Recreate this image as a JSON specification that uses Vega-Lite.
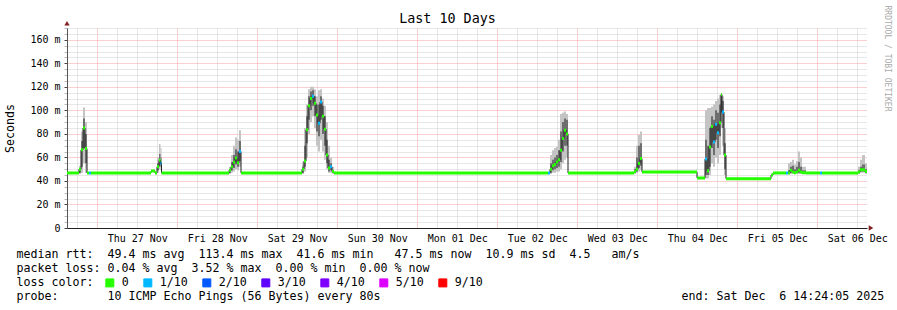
{
  "$schema": "https://vega.github.io/schema/vega-lite/v6.json",
  "width": 800,
  "height": 200,
  "autosize": {"type": "none"},
  "padding": {"left": 67, "top": 28, "right": 30, "bottom": 82},
  "background": "white",
  "title": {"text": "Last 10 Days", "font": "DejaVu Sans Mono", "fontSize": 13.4, "fontWeight": "normal", "color": "#000000", "anchor": "middle", "dx": -19.5, "dy": 20, "offset": 0},
  "datasets": {
    "rtt": [
      {"t0": "2025-11-26T14:55:00Z", "t1": "2025-11-26T18:31:00Z", "med": 46.8, "loss": "0"},
      {"t0": "2025-11-26T18:31:00Z", "t1": "2025-11-26T19:07:00Z", "med": 50, "loss": "0", "lo": 46, "hi": 53, "ilo": 47, "ihi": 51},
      {"t0": "2025-11-26T19:07:00Z", "t1": "2025-11-26T19:43:00Z", "med": 66.5, "loss": "0", "lo": 47, "hi": 82, "ilo": 52, "ihi": 74},
      {"t0": "2025-11-26T19:43:00Z", "t1": "2025-11-26T20:19:00Z", "med": 85, "loss": "0", "lo": 55, "hi": 102.5, "ilo": 68, "ihi": 93},
      {"t0": "2025-11-26T20:19:00Z", "t1": "2025-11-26T20:55:00Z", "med": 67.5, "loss": "0", "lo": 47, "hi": 90, "ilo": 55, "ihi": 80},
      {"t0": "2025-11-26T20:55:00Z", "t1": "2025-11-26T21:31:00Z", "med": 46.8, "loss": "0"},
      {"t0": "2025-11-26T21:31:00Z", "t1": "2025-11-26T22:07:00Z", "med": 46.8, "loss": "1/10"},
      {"t0": "2025-11-26T22:07:00Z", "t1": "2025-11-27T16:07:00Z", "med": 46.8, "loss": "0"},
      {"t0": "2025-11-27T16:07:00Z", "t1": "2025-11-27T17:19:00Z", "med": 48.5, "loss": "0"},
      {"t0": "2025-11-27T17:19:00Z", "t1": "2025-11-27T17:55:00Z", "med": 46.8, "loss": "0"},
      {"t0": "2025-11-27T17:55:00Z", "t1": "2025-11-27T18:31:00Z", "med": 52, "loss": "0", "lo": 47, "hi": 60, "ilo": 49, "ihi": 55},
      {"t0": "2025-11-27T18:31:00Z", "t1": "2025-11-27T18:58:00Z", "med": 57.5, "loss": "0", "lo": 50, "hi": 71.5, "ilo": 53, "ihi": 63},
      {"t0": "2025-11-27T18:58:00Z", "t1": "2025-11-27T19:16:00Z", "med": 55, "loss": "1/10", "lo": 49, "hi": 68, "ilo": 52, "ihi": 60},
      {"t0": "2025-11-27T19:16:00Z", "t1": "2025-11-28T15:31:00Z", "med": 46.8, "loss": "0"},
      {"t0": "2025-11-28T15:31:00Z", "t1": "2025-11-28T16:07:00Z", "med": 49, "loss": "0", "lo": 46, "hi": 52, "ilo": 47, "ihi": 50},
      {"t0": "2025-11-28T16:07:00Z", "t1": "2025-11-28T16:43:00Z", "med": 52, "loss": "0", "lo": 47, "hi": 62, "ilo": 49, "ihi": 56},
      {"t0": "2025-11-28T16:43:00Z", "t1": "2025-11-28T17:19:00Z", "med": 55.8, "loss": "0", "lo": 48, "hi": 70, "ilo": 51, "ihi": 62},
      {"t0": "2025-11-28T17:19:00Z", "t1": "2025-11-28T17:55:00Z", "med": 59.4, "loss": "0", "lo": 50, "hi": 77, "ilo": 54, "ihi": 67},
      {"t0": "2025-11-28T17:55:00Z", "t1": "2025-11-28T18:31:00Z", "med": 55.5, "loss": "0", "lo": 49, "hi": 75, "ilo": 52, "ihi": 65},
      {"t0": "2025-11-28T18:31:00Z", "t1": "2025-11-28T19:07:00Z", "med": 65, "loss": "1/10", "lo": 52, "hi": 83, "ilo": 57, "ihi": 74},
      {"t0": "2025-11-28T19:07:00Z", "t1": "2025-11-29T13:25:00Z", "med": 46.8, "loss": "0"},
      {"t0": "2025-11-29T13:25:00Z", "t1": "2025-11-29T14:01:00Z", "med": 50, "loss": "0", "lo": 46, "hi": 56, "ilo": 47, "ihi": 52},
      {"t0": "2025-11-29T14:01:00Z", "t1": "2025-11-29T14:37:00Z", "med": 57, "loss": "0", "lo": 48, "hi": 85, "ilo": 52, "ihi": 70},
      {"t0": "2025-11-29T14:37:00Z", "t1": "2025-11-29T15:13:00Z", "med": 83.5, "loss": "0", "lo": 60, "hi": 105, "ilo": 72, "ihi": 95},
      {"t0": "2025-11-29T15:13:00Z", "t1": "2025-11-29T15:49:00Z", "med": 104, "loss": "0", "lo": 80, "hi": 118, "ilo": 92, "ihi": 112},
      {"t0": "2025-11-29T15:49:00Z", "t1": "2025-11-29T16:25:00Z", "med": 110, "loss": "0", "lo": 90, "hi": 120, "ilo": 100, "ihi": 116},
      {"t0": "2025-11-29T16:25:00Z", "t1": "2025-11-29T17:01:00Z", "med": 112, "loss": "1/10", "lo": 95, "hi": 120, "ilo": 104, "ihi": 117},
      {"t0": "2025-11-29T17:01:00Z", "t1": "2025-11-29T17:37:00Z", "med": 106, "loss": "0", "lo": 85, "hi": 118, "ilo": 95, "ihi": 112},
      {"t0": "2025-11-29T17:37:00Z", "t1": "2025-11-29T18:13:00Z", "med": 96, "loss": "0", "lo": 70, "hi": 112, "ilo": 82, "ihi": 105},
      {"t0": "2025-11-29T18:13:00Z", "t1": "2025-11-29T18:49:00Z", "med": 89, "loss": "1/10", "lo": 65, "hi": 117, "ilo": 78, "ihi": 105},
      {"t0": "2025-11-29T18:49:00Z", "t1": "2025-11-29T19:25:00Z", "med": 107, "loss": "1/10", "lo": 75, "hi": 118, "ilo": 92, "ihi": 112},
      {"t0": "2025-11-29T19:25:00Z", "t1": "2025-11-29T20:01:00Z", "med": 95, "loss": "0", "lo": 65, "hi": 110, "ilo": 80, "ihi": 104},
      {"t0": "2025-11-29T20:01:00Z", "t1": "2025-11-29T20:37:00Z", "med": 84, "loss": "0", "lo": 58, "hi": 104, "ilo": 70, "ihi": 95},
      {"t0": "2025-11-29T20:37:00Z", "t1": "2025-11-29T21:13:00Z", "med": 62, "loss": "0", "lo": 50, "hi": 90, "ilo": 55, "ihi": 75},
      {"t0": "2025-11-29T21:13:00Z", "t1": "2025-11-29T21:49:00Z", "med": 51, "loss": "0", "lo": 47, "hi": 70, "ilo": 48, "ihi": 58},
      {"t0": "2025-11-29T21:49:00Z", "t1": "2025-11-29T22:25:00Z", "med": 52, "loss": "1/10", "lo": 47, "hi": 60, "ilo": 49, "ihi": 55},
      {"t0": "2025-11-29T22:25:00Z", "t1": "2025-11-29T23:01:00Z", "med": 48, "loss": "0", "lo": 46, "hi": 52, "ilo": 47, "ihi": 49},
      {"t0": "2025-11-29T23:01:00Z", "t1": "2025-12-02T15:13:00Z", "med": 46.8, "loss": "0"},
      {"t0": "2025-12-02T15:13:00Z", "t1": "2025-12-02T15:49:00Z", "med": 46.8, "loss": "1/10"},
      {"t0": "2025-12-02T15:49:00Z", "t1": "2025-12-02T16:25:00Z", "med": 50, "loss": "0", "lo": 46, "hi": 62, "ilo": 47, "ihi": 55},
      {"t0": "2025-12-02T16:25:00Z", "t1": "2025-12-02T17:01:00Z", "med": 53, "loss": "0", "lo": 47, "hi": 66, "ilo": 49, "ihi": 58},
      {"t0": "2025-12-02T17:01:00Z", "t1": "2025-12-02T17:37:00Z", "med": 54, "loss": "0", "lo": 47, "hi": 68, "ilo": 50, "ihi": 60},
      {"t0": "2025-12-02T17:37:00Z", "t1": "2025-12-02T18:13:00Z", "med": 56, "loss": "0", "lo": 48, "hi": 69, "ilo": 51, "ihi": 62},
      {"t0": "2025-12-02T18:13:00Z", "t1": "2025-12-02T18:49:00Z", "med": 58, "loss": "0", "lo": 48, "hi": 75, "ilo": 52, "ihi": 66},
      {"t0": "2025-12-02T18:49:00Z", "t1": "2025-12-02T19:25:00Z", "med": 66, "loss": "0", "lo": 50, "hi": 97, "ilo": 56, "ihi": 82},
      {"t0": "2025-12-02T19:25:00Z", "t1": "2025-12-02T20:01:00Z", "med": 76, "loss": "0", "lo": 55, "hi": 98, "ilo": 65, "ihi": 90},
      {"t0": "2025-12-02T20:01:00Z", "t1": "2025-12-02T20:37:00Z", "med": 83, "loss": "0", "lo": 58, "hi": 99, "ilo": 70, "ihi": 93},
      {"t0": "2025-12-02T20:37:00Z", "t1": "2025-12-02T21:13:00Z", "med": 80, "loss": "0", "lo": 60, "hi": 97, "ilo": 70, "ihi": 92},
      {"t0": "2025-12-02T21:13:00Z", "t1": "2025-12-03T17:01:00Z", "med": 46.8, "loss": "0"},
      {"t0": "2025-12-03T17:01:00Z", "t1": "2025-12-03T17:37:00Z", "med": 48, "loss": "0", "lo": 46, "hi": 52, "ilo": 47, "ihi": 50},
      {"t0": "2025-12-03T17:37:00Z", "t1": "2025-12-03T18:13:00Z", "med": 50, "loss": "0", "lo": 47, "hi": 70, "ilo": 48, "ihi": 60},
      {"t0": "2025-12-03T18:13:00Z", "t1": "2025-12-03T18:49:00Z", "med": 54.8, "loss": "0", "lo": 48, "hi": 79, "ilo": 51, "ihi": 70},
      {"t0": "2025-12-03T18:49:00Z", "t1": "2025-12-03T19:25:00Z", "med": 59, "loss": "0", "lo": 49, "hi": 82, "ilo": 53, "ihi": 72},
      {"t0": "2025-12-03T19:25:00Z", "t1": "2025-12-04T11:55:00Z", "med": 47.5, "loss": "0"},
      {"t0": "2025-12-04T11:55:00Z", "t1": "2025-12-04T14:19:00Z", "med": 42.5, "loss": "0"},
      {"t0": "2025-12-04T14:19:00Z", "t1": "2025-12-04T14:55:00Z", "med": 58.6, "loss": "1/10", "lo": 42, "hi": 100, "ilo": 45, "ihi": 75},
      {"t0": "2025-12-04T14:55:00Z", "t1": "2025-12-04T15:31:00Z", "med": 48.6, "loss": "0", "lo": 42, "hi": 102, "ilo": 45, "ihi": 70},
      {"t0": "2025-12-04T15:31:00Z", "t1": "2025-12-04T16:07:00Z", "med": 68.9, "loss": "0", "lo": 45, "hi": 102, "ilo": 52, "ihi": 85},
      {"t0": "2025-12-04T16:07:00Z", "t1": "2025-12-04T16:43:00Z", "med": 86.3, "loss": "0", "lo": 55, "hi": 103, "ilo": 68, "ihi": 95},
      {"t0": "2025-12-04T16:43:00Z", "t1": "2025-12-04T17:19:00Z", "med": 73, "loss": "1/10", "lo": 52, "hi": 105, "ilo": 62, "ihi": 92},
      {"t0": "2025-12-04T17:19:00Z", "t1": "2025-12-04T17:55:00Z", "med": 88.2, "loss": "1/10", "lo": 60, "hi": 108, "ilo": 75, "ihi": 100},
      {"t0": "2025-12-04T17:55:00Z", "t1": "2025-12-04T18:31:00Z", "med": 81, "loss": "1/10", "lo": 55, "hi": 110, "ilo": 68, "ihi": 98},
      {"t0": "2025-12-04T18:31:00Z", "t1": "2025-12-04T19:07:00Z", "med": 89.5, "loss": "0", "lo": 62, "hi": 113, "ilo": 78, "ihi": 105},
      {"t0": "2025-12-04T19:07:00Z", "t1": "2025-12-04T19:25:00Z", "med": 113.4, "loss": "0", "lo": 85, "hi": 114, "ilo": 98, "ihi": 113.5},
      {"t0": "2025-12-04T19:25:00Z", "t1": "2025-12-04T20:01:00Z", "med": 98.5, "loss": "1/10", "lo": 70, "hi": 112, "ilo": 85, "ihi": 108},
      {"t0": "2025-12-04T20:01:00Z", "t1": "2025-12-04T20:37:00Z", "med": 62, "loss": "0", "lo": 45, "hi": 85, "ilo": 50, "ihi": 72},
      {"t0": "2025-12-04T20:37:00Z", "t1": "2025-12-05T10:07:00Z", "med": 41.8, "loss": "0"},
      {"t0": "2025-12-05T10:07:00Z", "t1": "2025-12-05T10:43:00Z", "med": 45, "loss": "0"},
      {"t0": "2025-12-05T10:43:00Z", "t1": "2025-12-05T14:37:00Z", "med": 46.8, "loss": "0"},
      {"t0": "2025-12-05T14:37:00Z", "t1": "2025-12-05T15:13:00Z", "med": 46.8, "loss": "1/10"},
      {"t0": "2025-12-05T15:13:00Z", "t1": "2025-12-05T15:49:00Z", "med": 46.8, "loss": "0", "lo": 46, "hi": 55, "ilo": 46.5, "ihi": 49},
      {"t0": "2025-12-05T15:49:00Z", "t1": "2025-12-05T16:25:00Z", "med": 49, "loss": "0", "lo": 46, "hi": 56, "ilo": 47, "ihi": 52},
      {"t0": "2025-12-05T16:25:00Z", "t1": "2025-12-05T17:01:00Z", "med": 47.5, "loss": "0", "lo": 46, "hi": 58, "ilo": 47, "ihi": 53},
      {"t0": "2025-12-05T17:01:00Z", "t1": "2025-12-05T17:37:00Z", "med": 47, "loss": "0", "lo": 46, "hi": 54, "ilo": 46.5, "ihi": 50},
      {"t0": "2025-12-05T17:37:00Z", "t1": "2025-12-05T18:13:00Z", "med": 47.5, "loss": "0", "lo": 46, "hi": 57, "ilo": 47, "ihi": 52},
      {"t0": "2025-12-05T18:13:00Z", "t1": "2025-12-05T18:49:00Z", "med": 49, "loss": "0", "lo": 46, "hi": 65, "ilo": 47, "ihi": 56},
      {"t0": "2025-12-05T18:49:00Z", "t1": "2025-12-05T19:25:00Z", "med": 47.5, "loss": "0", "lo": 46, "hi": 60, "ilo": 47, "ihi": 52},
      {"t0": "2025-12-05T19:25:00Z", "t1": "2025-12-05T20:37:00Z", "med": 47, "loss": "0", "lo": 46, "hi": 52, "ilo": 46.5, "ihi": 49},
      {"t0": "2025-12-05T20:37:00Z", "t1": "2025-12-06T00:49:00Z", "med": 46.8, "loss": "0"},
      {"t0": "2025-12-06T00:49:00Z", "t1": "2025-12-06T01:25:00Z", "med": 46.8, "loss": "1/10"},
      {"t0": "2025-12-06T01:25:00Z", "t1": "2025-12-06T12:13:00Z", "med": 46.8, "loss": "0"},
      {"t0": "2025-12-06T12:13:00Z", "t1": "2025-12-06T12:49:00Z", "med": 47.5, "loss": "0", "lo": 46, "hi": 52, "ilo": 47, "ihi": 49},
      {"t0": "2025-12-06T12:49:00Z", "t1": "2025-12-06T13:25:00Z", "med": 49.5, "loss": "0", "lo": 47, "hi": 58, "ilo": 48, "ihi": 52},
      {"t0": "2025-12-06T13:25:00Z", "t1": "2025-12-06T14:19:00Z", "med": 49.5, "loss": "0", "lo": 47, "hi": 62, "ilo": 48, "ihi": 54},
      {"t0": "2025-12-06T14:19:00Z", "t1": "2025-12-06T14:55:00Z", "med": 48, "loss": "0", "lo": 46, "hi": 55, "ilo": 47, "ihi": 50}
    ]
  },
  "data": {"name": "rtt"},
  "layer": [
    {
      "mark": {"type": "rect", "color": "#c4c4c4"},
      "encoding": {
        "x": {
          "field": "t0", "type": "temporal",
          "scale": {"type": "utc", "nice": false, "domain": [{"year": 2025, "month": 11, "date": 26, "hours": 14, "minutes": 55, "utc": true}, {"year": 2025, "month": 12, "date": 6, "hours": 14, "minutes": 55, "utc": true}]},
          "axis": {
            "orient": "bottom",
            "values": [1764244800000, 1764331200000, 1764417600000, 1764504000000, 1764590400000, 1764676800000, 1764763200000, 1764849600000, 1764936000000, 1765022400000],
            "labelExpr": "utcFormat(datum.value, '%a %d %b')",
            "labelOverlap": false, "labelFlush": false, "labelBound": false,
            "labelFont": "DejaVu Sans Mono", "labelFontSize": 10, "labelColor": "#000000", "labelPadding": 5,
            "ticks": false, "tickSize": 0,
            "grid": false,
            "domainColor": "#222222",
            "title": [
              "median rtt:\u00a0\u00a049.4 ms avg\u00a0\u00a0113.4 ms max\u00a0\u00a041.6 ms min\u00a0\u00a0\u00a047.5 ms now\u00a0\u00a010.9 ms sd\u00a0\u00a04.5\u00a0\u00a0\u00a0am/s",
              "packet loss: 0.04 % avg\u00a0\u00a03.52 % max\u00a0\u00a00.00 % min\u00a0\u00a00.00 % now",
              "loss color:",
              "probe:\u00a0\u00a0\u00a0\u00a0\u00a0\u00a0\u00a010 ICMP Echo Pings (56 Bytes) every 80s\u00a0\u00a0\u00a0\u00a0\u00a0\u00a0\u00a0\u00a0\u00a0\u00a0\u00a0\u00a0\u00a0\u00a0\u00a0\u00a0\u00a0\u00a0\u00a0\u00a0\u00a0\u00a0\u00a0\u00a0\u00a0\u00a0\u00a0\u00a0\u00a0\u00a0\u00a0\u00a0\u00a0\u00a0\u00a0\u00a0\u00a0\u00a0\u00a0\u00a0\u00a0\u00a0\u00a0end: Sat Dec\u00a0\u00a06 14:24:05 2025"
            ],
            "titleFont": "DejaVu Sans Mono", "titleFontSize": 11.63, "titleFontWeight": "normal", "titleColor": "#000000",
            "titleAnchor": "start", "titleAlign": "left", "titleBaseline": "alphabetic",
            "titleX": -51, "titleY": 29.3, "titleLineHeight": 14.2
          }
        },
        "x2": {"field": "t1"},
        "y": {
          "field": "lo", "type": "quantitative",
          "scale": {"domain": [0, 170], "nice": false, "zero": false},
          "axis": {
            "values": [0, 5, 10, 15, 20, 25, 30, 35, 40, 45, 50, 55, 60, 65, 70, 75, 80, 85, 90, 95, 100, 105, 110, 115, 120, 125, 130, 135, 140, 145, 150, 155, 160, 165, 170],
            "labelExpr": "datum.value % 20 == 0 ? (datum.value == 0 ? '0\u00a0\u00a0' : datum.value + ' m') : ''",
            "labelOverlap": false, "labelFlush": false, "labelBound": false,
            "labelFont": "DejaVu Sans Mono", "labelFontSize": 10, "labelColor": "#000000", "labelPadding": 4,
            "tickSize": 3,
            "tickColor": {"condition": {"test": "datum.value % 20 == 0", "value": "#444444"}, "value": "#bbbbbb"},
            "grid": true,
            "gridColor": {"condition": {"test": "datum.value % 20 == 0", "value": "#f4a0a0"}, "value": "#cfcfcf"},
            "gridDash": [1, 1],
            "domainColor": "#555555",
            "title": "Seconds",
            "titleFont": "DejaVu Sans Mono", "titleFontSize": 11.63, "titleFontWeight": "normal", "titleColor": "#000000",
            "titleAngle": -90, "titleX": -56.5, "titleY": 100, "titleAlign": "center", "titleBaseline": "middle"
          }
        },
        "y2": {"field": "hi"}
      }
    },
    {
      "mark": {"type": "rect", "color": "#6e6e6e"},
      "encoding": {
        "x": {
          "field": "t0", "type": "temporal",
          "axis": {
            "orient": "bottom",
            "values": [1764201600000, 1764288000000, 1764374400000, 1764460800000, 1764547200000, 1764633600000, 1764720000000, 1764806400000, 1764892800000, 1764979200000],
            "domain": false, "ticks": false, "labels": false, "title": null,
            "grid": true, "gridColor": "#f4a0a0", "gridDash": [1, 1]
          }
        },
        "x2": {"field": "t1"},
        "y": {
          "field": "ilo", "type": "quantitative",
          "axis": {
            "orient": "right", "domain": false, "ticks": false, "labels": false, "grid": false,
            "title": "RRDTOOL / TOBI OETIKER",
            "titleFont": "DejaVu Sans Mono", "titleFontSize": 8, "titleFontWeight": "normal", "titleColor": "#aaaaaa",
            "titleAngle": 90, "titleX": 19, "titleY": -23, "titleAlign": "left", "titleBaseline": "middle"
          }
        },
        "y2": {"field": "ihi"}
      }
    },
    {
      "mark": {"type": "line", "interpolate": "step-after", "color": "#202020", "strokeWidth": 1},
      "encoding": {
        "x": {
          "field": "t0", "type": "temporal",
          "axis": {
            "orient": "bottom",
            "values": [1764180000000, 1764223200000, 1764244800000, 1764266400000, 1764309600000, 1764331200000, 1764352800000, 1764396000000, 1764417600000, 1764439200000, 1764482400000, 1764504000000, 1764525600000, 1764568800000, 1764590400000, 1764612000000, 1764655200000, 1764676800000, 1764698400000, 1764741600000, 1764763200000, 1764784800000, 1764828000000, 1764849600000, 1764871200000, 1764914400000, 1764936000000, 1764957600000, 1765000800000, 1765022400000],
            "domain": false, "ticks": false, "labels": false, "title": null,
            "grid": true, "gridColor": "#cfcfcf", "gridDash": [1, 1]
          }
        },
        "y": {"field": "med", "type": "quantitative", "axis": null}
      }
    },
    {
      "mark": {"type": "rule", "strokeWidth": 3},
      "encoding": {
        "x": {"field": "t0", "type": "temporal", "axis": null},
        "x2": {"field": "t1"},
        "y": {"field": "med", "type": "quantitative", "axis": null},
        "color": {
          "field": "loss", "type": "nominal",
          "scale": {"domain": ["0", "1/10", "2/10", "3/10", "4/10", "5/10", "9/10"], "range": ["#26ff00", "#00b8ff", "#0059ff", "#5e00ff", "#7e00ff", "#dd00ff", "#ff0000"]},
          "legend": {
            "orient": "none", "legendX": 37, "legendY": 249, "direction": "horizontal",
            "title": null,
            "labelFont": "DejaVu Sans Mono", "labelFontSize": 11.63, "labelColor": "#000000", "labelOffset": 6, "labelBaseline": "middle",
            "symbolType": "square", "symbolSize": 64, "symbolStrokeWidth": 1, "columnPadding": 12,
            "encode": {"symbols": {"update": {"fill": {"scale": "color", "field": "value"}, "stroke": {"value": "#000000"}, "strokeWidth": {"value": 1}, "opacity": {"value": 1}, "fillOpacity": {"value": 1}}}}
          }
        }
      }
    },
    {
      "data": {"values": [{}]},
      "mark": {"type": "point", "shape": "triangle-right", "filled": true, "size": 28, "color": "#7f1f1f", "opacity": 1},
      "encoding": {
        "x": {"datum": {"year": 2025, "month": 12, "date": 6, "hours": 16, "minutes": 7, "utc": true}, "type": "temporal", "axis": null},
        "y": {"datum": 0, "type": "quantitative", "axis": null}
      }
    },
    {
      "data": {"values": [{}]},
      "mark": {"type": "point", "shape": "triangle-up", "filled": true, "size": 28, "color": "#7f1f1f", "opacity": 1},
      "encoding": {
        "x": {"datum": {"year": 2025, "month": 11, "date": 26, "hours": 14, "minutes": 55, "utc": true}, "type": "temporal", "axis": null},
        "y": {"datum": 174, "type": "quantitative", "axis": null}
      }
    }
  ],
  "resolve": {"axis": {"x": "independent", "y": "independent"}},
  "config": {"view": {"stroke": null}, "font": "DejaVu Sans Mono"}
}
